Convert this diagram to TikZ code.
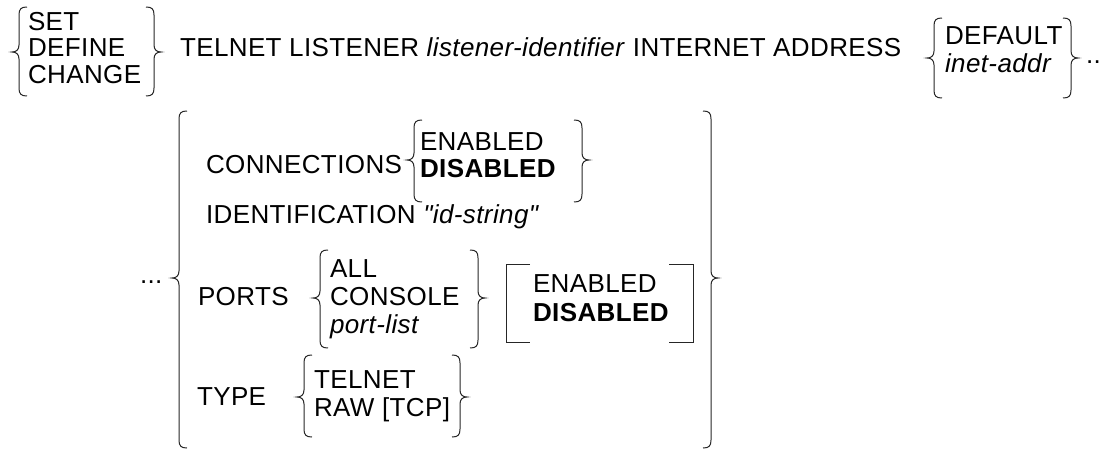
\documentclass[tikz,border=0pt]{standalone}
\usepackage{fontspec}
\setmainfont{Liberation Sans}[Ligatures=TeXOff,LetterSpace=1.5]
\newcommand\LBr[4]{%
  \draw[br] (#1+8,#2) .. controls (#1+2,#2) and (#1,#2+2) .. (#1,#2+8)
    -- (#1,#3-7) .. controls (#1,#3-2) and (#1-3,#3) .. (#1-7,#3)
    .. controls (#1-3,#3) and (#1,#3+2) .. (#1,#3+7)
    -- (#1,#4-8) .. controls (#1,#4-2) and (#1+2,#4) .. (#1+8,#4);}
\newcommand\RBr[4]{%
  \draw[br] (#1-8,#2) .. controls (#1-2,#2) and (#1,#2+2) .. (#1,#2+8)
    -- (#1,#3-7) .. controls (#1,#3-2) and (#1+3,#3) .. (#1+7,#3)
    .. controls (#1+3,#3) and (#1,#3+2) .. (#1,#3+7)
    -- (#1,#4-8) .. controls (#1,#4-2) and (#1-2,#4) .. (#1-8,#4);}
\begin{document}
\begin{tikzpicture}[x=1pt,y=-1pt,
  every node/.style={inner sep=0pt, outer sep=0pt, anchor=base west,
    font=\fontsize{26}{29}\selectfont},
  br/.style={line width=1pt, black!85}]
\useasboundingbox (0,0) rectangle (1109,452);
% row 1
\LBr{19}{7}{52}{96}
\node (set) at (28,31) {SET};
\node (define) at (28,57) {DEFINE};
\node (change) at (28,84) {CHANGE};
\RBr{154}{7}{52}{96}
\node (tl) at (180,57) {TELNET LISTENER \textit{listener-identifier} INTERNET ADDRESS};
\LBr{934}{18}{58}{98}
\node (default) at (945,45) {DEFAULT};
\node (inet) at (945,73) {\textit{inet-addr}};
\RBr{1071}{18}{58}{98}
\node (dots1) at (1086,64) {..};
% big group
\node (dots2) at (140,283) {...};
\LBr{179}{111}{278}{448}
\RBr{711}{111}{278}{448}
% connections
\node (conn) at (206,173) {CONNECTIONS};
\LBr{414}{120}{160}{202}
\node (cen) at (420,150) {ENABLED};
\node (cdis) at (420,177) {\textbf{DISABLED}};
\RBr{582}{120}{160}{202}
% identification
\node (ident) at (206,223) {IDENTIFICATION \textit{"id-string"}};
% ports
\node (ports) at (198,305) {PORTS};
\LBr{320}{250}{298}{348}
\node (all) at (330,277) {ALL};
\node (console) at (330,305) {CONSOLE};
\node (plist) at (330,333) {\textit{port-list}};
\RBr{478}{250}{298}{348}
\draw[br] (530,264) -- (506,264) -- (506,342) -- (530,342);
\draw[br] (669,264) -- (693,264) -- (693,342) -- (669,342);
\node (pen) at (533,292) {ENABLED};
\node (pdis) at (533,321) {\textbf{DISABLED}};
% type
\node (type) at (197,405) {TYPE};
\LBr{304}{355}{397}{437}
\node (telnet) at (314,388) {TELNET};
\node (raw) at (314,416) {RAW [TCP]};
\RBr{460}{355}{397}{437}
\end{tikzpicture}
\end{document}
